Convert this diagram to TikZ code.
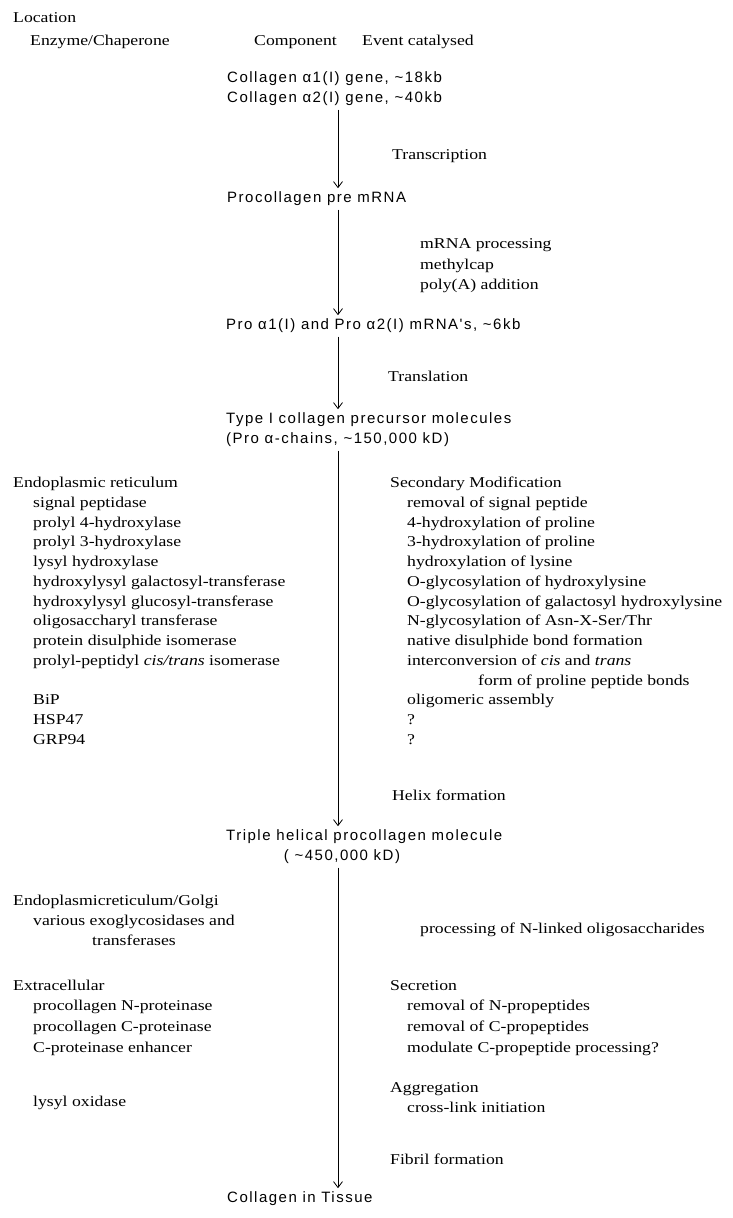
\documentclass[tikz,border=0pt]{standalone}
\usepackage{fontspec}
\setmainfont{Liberation Serif}[FakeStretch=1.18]
\newfontfamily\compfont{Liberation Sans}[LetterSpace=10]
\usetikzlibrary{arrows.meta}

\tikzset{
  txt/.style={anchor=mid west, inner sep=0pt, font=\fontsize{15}{18}\selectfont},
  comp/.style={anchor=mid west, inner sep=0pt, font=\compfont\fontsize{15}{18}\selectfont},
  flow/.style={line width=0.8pt, shorten <=4pt, shorten >=3pt,
    -{Straight Barb[length=6pt,width=9pt]}}
}

\begin{document}
\begin{tikzpicture}[x=1pt,y=-1pt]
  \useasboundingbox (0,0) rectangle (733,1218);
  \coordinate (spine) at (338,0);

  %% headings
  \node[txt] (loc) at (13,20) {Location};
  \node[txt] (hdrenz) at (30,43) {Enzyme/Chaperone};
  \node[txt] (hdrcomp) at (254,43) {Component};
  \node[txt] (hdrevent) at (362,43) {Event catalysed};

  %% components
  \node[comp] (gene1) at (227,80) {Collagen α1(I) gene, \textasciitilde18kb};
  \node[comp] (gene2) at (227,100) {Collagen α2(I) gene, \textasciitilde40kb};
  \node[comp] (premrna) at (227,200) {Procollagen pre mRNA};
  \node[comp] (mrna) at (226,327) {Pro α1(I) and Pro α2(I) mRNA's, \textasciitilde6kb};
  \node[comp] (precursor1) at (226,421) {Type I collagen precursor molecules};
  \node[comp] (precursor2) at (226,441) {(Pro α-chains, \textasciitilde150,000 kD)};
  \node[comp] (triple1) at (226,838) {Triple helical procollagen molecule};
  \node[comp,anchor=mid] (triple2) at (342,858) {( \textasciitilde450,000 kD)};
  \node[comp] (tissue) at (227,1200) {Collagen in Tissue};

  \draw[flow] (gene2.south -| spine) -- (premrna.north -| spine);
  \draw[flow] (premrna.south -| spine) -- (mrna.north -| spine);
  \draw[flow] (mrna.south -| spine) -- (precursor1.north -| spine);
  \draw[flow] (precursor2.south -| spine) -- (triple1.north -| spine);
  \draw[flow] (triple2.south -| spine) -- (tissue.north -| spine);

  %% events
  \node[txt] (transcr) at (392,157) {Transcription};
  \node[txt] (proc1) at (420,246) {mRNA processing};
  \node[txt] (proc2) at (420,267) {methylcap};
  \node[txt] (proc3) at (420,287) {poly(A) addition};
  \node[txt] (transl) at (388,379) {Translation};

  \node[txt] (secmod) at (390,485) {Secondary Modification};
  \node[txt] (ev1) at (407,505) {removal of signal peptide};
  \node[txt] (ev2) at (407,525) {4-hydroxylation of proline};
  \node[txt] (ev3) at (407,544) {3-hydroxylation of proline};
  \node[txt] (ev4) at (407,564) {hydroxylation of lysine};
  \node[txt] (ev5) at (407,584) {O-glycosylation of hydroxylysine};
  \node[txt] (ev6) at (407,604) {O-glycosylation of galactosyl hydroxylysine};
  \node[txt] (ev7) at (407,623) {N-glycosylation of Asn-X-Ser/Thr};
  \node[txt] (ev8) at (407,643) {native disulphide bond formation};
  \node[txt] (ev9) at (407,663) {interconversion of \textit{cis} and \textit{trans}};
  \node[txt] (ev9b) at (478,683) {form of proline peptide bonds};
  \node[txt] (ev10) at (407,702) {oligomeric assembly};
  \node[txt] (ev11) at (407,722) {?};
  \node[txt] (ev12) at (407,742) {?};
  \node[txt] (helix) at (392,798) {Helix formation};

  \node[txt] (nlinked) at (420,931) {processing of N-linked oligosaccharides};
  \node[txt] (secr) at (390,988) {Secretion};
  \node[txt] (secr1) at (407,1008) {removal of N-propeptides};
  \node[txt] (secr2) at (407,1029) {removal of C-propeptides};
  \node[txt] (secr3) at (407,1050) {modulate C-propeptide processing?};
  \node[txt] (aggr) at (390,1090) {Aggregation};
  \node[txt] (aggr1) at (407,1110) {cross-link initiation};
  \node[txt] (fibril) at (390,1162) {Fibril formation};

  %% enzymes / chaperones
  \node[txt] (er) at (13,485) {Endoplasmic reticulum};
  \node[txt] (enz1) at (33,505) {signal peptidase};
  \node[txt] (enz2) at (33,525) {prolyl 4-hydroxylase};
  \node[txt] (enz3) at (33,544) {prolyl 3-hydroxylase};
  \node[txt] (enz4) at (33,564) {lysyl hydroxylase};
  \node[txt] (enz5) at (33,584) {hydroxylysyl galactosyl-transferase};
  \node[txt] (enz6) at (33,604) {hydroxylysyl glucosyl-transferase};
  \node[txt] (enz7) at (33,623) {oligosaccharyl transferase};
  \node[txt] (enz8) at (33,643) {protein disulphide isomerase};
  \node[txt] (enz9) at (33,663) {prolyl-peptidyl \textit{cis/trans} isomerase};
  \node[txt] (chap1) at (33,702) {BiP};
  \node[txt] (chap2) at (33,722) {HSP47};
  \node[txt] (chap3) at (33,742) {GRP94};

  \node[txt] (golgi) at (13,903) {Endoplasmicreticulum/Golgi};
  \node[txt] (golgi1) at (33,923) {various exoglycosidases and};
  \node[txt] (golgi2) at (92,943) {transferases};
  \node[txt] (extra) at (13,988) {Extracellular};
  \node[txt] (extra1) at (33,1008) {procollagen N-proteinase};
  \node[txt] (extra2) at (33,1029) {procollagen C-proteinase};
  \node[txt] (extra3) at (33,1050) {C-proteinase enhancer};
  \node[txt] (lox) at (33,1104) {lysyl oxidase};

\end{tikzpicture}
\end{document}
